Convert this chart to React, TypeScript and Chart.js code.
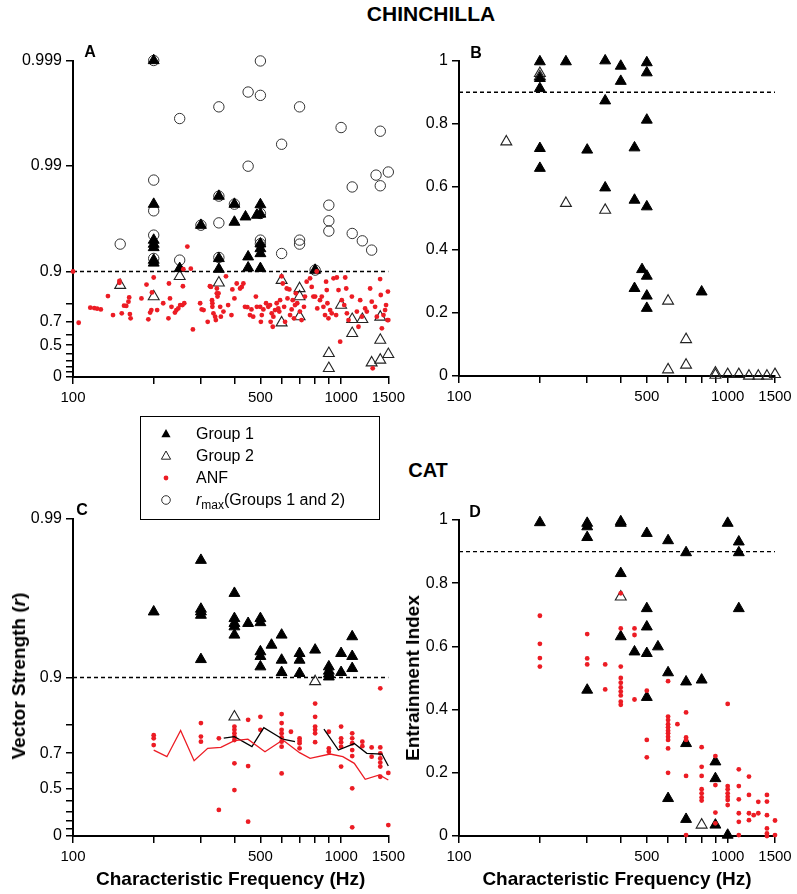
import React, { useEffect, useRef } from 'react';
import { Chart, registerables } from 'chart.js';

Chart.register(...registerables);

const FONT = '"Liberation Sans", Arial, Helvetica, sans-serif';
const RED = '#ec1c24';

// ---------- axis ticks ----------
const X_TICKS = [100, 200, 300, 400, 500, 600, 700, 800, 900, 1000, 1500];
const X_LABELS = [100, 500, 1000, 1500];
const VS_TICKS_A = [0, 0.1, 0.2, 0.3, 0.4, 0.5, 0.6, 0.7, 0.8, 0.9, 0.99, 0.999];
const VS_TICKS_C = [0, 0.1, 0.2, 0.3, 0.4, 0.5, 0.6, 0.7, 0.8, 0.9, 0.99];
const VS_LABELED = [0, 0.5, 0.7, 0.9, 0.99, 0.999];
const EI_TICKS = [0, 0.2, 0.4, 0.6, 0.8, 1];
const CRITERION = 0.9;

// ---------- CHINCHILLA, panel A (vector strength) ----------
const chinG1VS: [number, number][] = [
  [200, 0.999], [200, 0.977], [200, 0.9496], [200, 0.945], [200, 0.9408], [200, 0.922], [200, 0.917],
  [250, 0.9065], [300, 0.9636], [350, 0.9807], [350, 0.9248], [350, 0.905], [400, 0.977], [400, 0.966],
  [440, 0.9697], [450, 0.9275], [450, 0.9078], [485, 0.9708], [500, 0.9768], [500, 0.9715], [500, 0.9454],
  [500, 0.9394], [500, 0.9325], [500, 0.9065], [800, 0.903],
];
const chinG2VS: [number, number][] = [
  [150, 0.865], [200, 0.827], [250, 0.889], [350, 0.872], [600, 0.879], [600, 0.694], [700, 0.855],
  [700, 0.827], [700, 0.732], [900, 0.403], [900, 0.172], [1000, 0.792], [1100, 0.716], [1100, 0.614],
  [1200, 0.716], [1300, 0.268], [1400, 0.73], [1400, 0.553], [1400, 0.31], [1500, 0.39],
];
const chinRmax: [number, number][] = [
  [150, 0.945], [200, 0.999], [200, 0.9864], [200, 0.9734], [200, 0.9548], [200, 0.9248], [250, 0.99645],
  [250, 0.922], [300, 0.9636], [350, 0.99725], [350, 0.9807], [350, 0.9654], [350, 0.9264], [400, 0.977],
  [450, 0.99801], [450, 0.98996], [500, 0.99899], [500, 0.99786], [500, 0.9718], [500, 0.9496], [500, 0.9454],
  [600, 0.99378], [600, 0.9325], [700, 0.99725], [700, 0.9496], [700, 0.945], [800, 0.903], [900, 0.9765],
  [900, 0.9669], [900, 0.9586], [1000, 0.99568], [1100, 0.9842], [1100, 0.9564], [1200, 0.9488],
  [1300, 0.9373], [1350, 0.9878], [1400, 0.99532], [1400, 0.9846], [1500, 0.9886],
];
const chinANFVS: [number, number][] = [
  [100, 0.9], [105, 0.694], [116, 0.78], [120, 0.778], [123, 0.775], [127, 0.771], [135, 0.829], [141, 0.741],
  [149, 0.877], [149, 0.872], [152, 0.751], [155, 0.789], [158, 0.788], [161, 0.807], [162, 0.824], [163, 0.747],
  [164, 0.722], [180, 0.82], [188, 0.867], [191, 0.716], [194, 0.755], [196, 0.768], [197, 0.842], [200, 0.886],
  [206, 0.768], [217, 0.8], [227, 0.722], [228, 0.87], [230, 0.82], [233, 0.784], [240, 0.755], [243, 0.768],
  [247, 0.776], [251, 0.792], [256, 0.792], [257, 0.862], [258, 0.905], [260, 0.8], [267, 0.942], [275, 0.906],
  [280, 0.646], [298, 0.8], [302, 0.771], [307, 0.768], [318, 0.7], [324, 0.862], [330, 0.813], [331, 0.8],
  [339, 0.732], [341, 0.711], [344, 0.839], [327, 0.86], [331, 0.784], [334, 0.751], [344, 0.855], [346, 0.827],
  [349, 0.839], [354, 0.784], [356, 0.732], [364, 0.76], [372, 0.889], [379, 0.792], [390, 0.741], [393, 0.852],
  [400, 0.82], [408, 0.87], [420, 0.855], [426, 0.86], [432, 0.87], [438, 0.784], [447, 0.782], [457, 0.741],
  [463, 0.771], [470, 0.732], [481, 0.827], [485, 0.784], [499, 0.784], [502, 0.7], [506, 0.741], [513, 0.771],
  [525, 0.8], [535, 0.784], [543, 0.792], [546, 0.7], [551, 0.751], [556, 0.666], [559, 0.732], [567, 0.768],
  [575, 0.8], [583, 0.776], [588, 0.76], [592, 0.813], [600, 0.889], [606, 0.87], [613, 0.784], [618, 0.7],
  [627, 0.855], [631, 0.82], [641, 0.852], [645, 0.741], [654, 0.771], [660, 0.813], [667, 0.722], [673, 0.792],
  [678, 0.839], [686, 0.8], [702, 0.76], [712, 0.711], [727, 0.784], [733, 0.827], [744, 0.875], [766, 0.884],
  [777, 0.86], [788, 0.827], [800, 0.827], [811, 0.9], [815, 0.776], [834, 0.813], [847, 0.827], [859, 0.784],
  [871, 0.741], [879, 0.875], [884, 0.85], [889, 0.8], [897, 0.722], [910, 0.768], [923, 0.751], [937, 0.884],
  [958, 0.741], [964, 0.886], [978, 0.85], [992, 0.537], [1006, 0.813], [1027, 0.792], [1036, 0.886],
  [1045, 0.855], [1051, 0.751], [1066, 0.711], [1097, 0.827], [1145, 0.76], [1161, 0.666], [1178, 0.813],
  [1195, 0.732], [1229, 0.776], [1247, 0.76], [1283, 0.855], [1301, 0.807], [1312, 0.172], [1339, 0.784],
  [1359, 0.732], [1398, 0.882], [1406, 0.833], [1419, 0.654], [1439, 0.741], [1459, 0.768], [1471, 0.792],
  [1488, 0.711], [1495, 0.845], [1500, 0.711],
];

// ---------- CHINCHILLA, panel B (entrainment index) ----------
const chinG1EI: [number, number][] = [
  [200, 0.997], [200, 0.944], [200, 0.912], [200, 0.722], [200, 0.659], [250, 0.997], [300, 0.717],
  [350, 1.0], [350, 0.873], [350, 0.597], [400, 0.983], [400, 0.935], [450, 0.724], [450, 0.558], [450, 0.278],
  [480, 0.338], [500, 0.994], [500, 0.962], [500, 0.812], [500, 0.537], [500, 0.317], [500, 0.254],
  [500, 0.215], [800, 0.267],
];
const chinG2EI: [number, number][] = [
  [150, 0.743], [200, 0.96], [200, 0.95], [250, 0.548], [350, 0.526], [600, 0.238], [600, 0.02], [700, 0.116],
  [700, 0.035], [900, 0.01], [900, 0.003], [1000, 0.005], [1100, 0.005], [1200, 0], [1300, 0], [1400, 0],
  [1500, 0.005],
];

// ---------- CAT, panel C (vector strength) ----------
const catG1VS: [number, number][] = [
  [200, 0.9615], [300, 0.9818], [300, 0.963], [300, 0.9615], [300, 0.9596], [300, 0.9231], [400, 0.9706],
  [400, 0.9576], [400, 0.9545], [400, 0.9522], [400, 0.9461], [450, 0.9545], [500, 0.9576], [500, 0.955],
  [500, 0.9313], [500, 0.9265], [500, 0.9145], [550, 0.9376], [600, 0.9461], [600, 0.9224], [600, 0.9072],
  [700, 0.9296], [700, 0.9224], [700, 0.9059], [800, 0.933], [900, 0.9145], [900, 0.909], [900, 0.905],
  [900, 0.901], [1000, 0.9296], [1000, 0.9072], [1100, 0.9448], [1100, 0.9265], [1100, 0.9124],
];
const catG2VS: [number, number][] = [[400, 0.823], [800, 0.894]];
const catANFVS: [number, number][] = [
  [200, 0.769], [200, 0.758], [200, 0.733], [300, 0.806], [300, 0.764], [300, 0.746], [350, 0.758], [350, 0.315],
  [400, 0.796], [400, 0.786], [400, 0.775], [400, 0.764], [400, 0.752], [400, 0.652], [400, 0.487],
  [450, 0.815], [450, 0.638], [450, 0.188], [500, 0.823], [500, 0.786], [600, 0.83], [600, 0.806], [600, 0.786],
  [600, 0.775], [600, 0.761], [600, 0.746], [600, 0.727], [600, 0.597], [650, 0.78], [700, 0.758], [700, 0.749],
  [700, 0.74], [700, 0.72], [800, 0.854], [800, 0.823], [800, 0.796], [800, 0.786], [800, 0.775], [800, 0.744],
  [900, 0.78], [900, 0.72], [900, 0.706], [1000, 0.796], [1000, 0.758], [1000, 0.744], [1000, 0.727],
  [1000, 0.635], [1100, 0.775], [1100, 0.758], [1100, 0.74], [1100, 0.713], [1100, 0.687], [1100, 0.5],
  [1100, 0.118], [1200, 0.746], [1200, 0.729], [1300, 0.724], [1300, 0.684], [1400, 0.883], [1400, 0.724],
  [1400, 0.699], [1400, 0.676], [1400, 0.656], [1400, 0.635], [1400, 0.577], [1500, 0.6], [1500, 0.147],
];
const catANFMean: [number, number][] = [
  [200, 0.713], [224, 0.684], [252, 0.784], [283, 0.665], [318, 0.72], [356, 0.724], [400, 0.75], [449, 0.755],
  [520, 0.706], [606, 0.752], [700, 0.702], [766, 0.676], [910, 0.696], [1015, 0.684], [1120, 0.652],
  [1230, 0.561], [1390, 0.588], [1500, 0.557],
];
const catG1MeanLow: [number, number][] = [
  [365, 0.759], [400, 0.764], [465, 0.727], [515, 0.793], [606, 0.755], [673, 0.746],
];
const catG1MeanHigh: [number, number][] = [
  [863, 0.788], [977, 0.713], [1120, 0.739], [1247, 0.699], [1420, 0.696], [1500, 0.638],
];

// ---------- CAT, panel D (entrainment index) ----------
const catG1EI: [number, number][] = [
  [200, 0.992], [300, 0.99], [300, 0.979], [300, 0.945], [300, 0.462], [400, 0.995], [400, 0.99], [400, 0.831],
  [400, 0.631], [450, 0.583], [500, 0.958], [500, 0.72], [500, 0.662], [500, 0.578], [500, 0.439], [550, 0.599],
  [600, 0.935], [600, 0.517], [600, 0.119], [700, 0.897], [700, 0.488], [700, 0.293], [700, 0.053], [800, 0.494],
  [900, 0.235], [900, 0.182], [900, 0.035], [1000, 0.99], [1000, 0.003], [1100, 0.931], [1100, 0.897],
  [1100, 0.72],
];
const catG2EI: [number, number][] = [[400, 0.757], [800, 0.035]];
const catANFEI: [number, number][] = [
  [200, 0.697], [200, 0.608], [200, 0.563], [200, 0.536], [300, 0.639], [300, 0.562], [300, 0.543],
  [350, 0.543], [350, 0.464], [400, 0.768], [400, 0.657], [400, 0.536], [400, 0.5], [400, 0.485], [400, 0.47],
  [400, 0.457], [400, 0.445], [400, 0.425], [400, 0.415], [450, 0.657], [450, 0.636], [450, 0.432],
  [500, 0.46], [500, 0.304], [500, 0.249], [600, 0.49], [600, 0.378], [600, 0.367], [600, 0.354], [600, 0.344],
  [600, 0.333], [600, 0.325], [600, 0.314], [600, 0.304], [600, 0.277], [600, 0.2], [650, 0.354], [700, 0.391],
  [700, 0.312], [700, 0.304], [700, 0.19], [700, 0.003], [800, 0.281], [800, 0.219], [800, 0.19], [800, 0.148],
  [800, 0.135], [800, 0.122], [800, 0.112], [900, 0.253], [900, 0.161], [900, 0.074], [900, 0.04],
  [1000, 0.418], [1000, 0.158], [1000, 0.148], [1000, 0.135], [1000, 0.124], [1000, 0.114], [1000, 0.098],
  [1100, 0.211], [1100, 0.158], [1100, 0.116], [1100, 0.072], [1100, 0.045], [1100, 0.003], [1200, 0.188],
  [1200, 0.13], [1200, 0.072], [1200, 0.05], [1250, 0.066], [1300, 0.108], [1300, 0.072], [1400, 0.13],
  [1400, 0.109], [1400, 0.066], [1400, 0.024], [1400, 0.008], [1400, 0], [1500, 0.049], [1500, 0.003],
];

// ---------- helpers ----------
const T = (r: number) => -Math.log10(1 - Math.min(r, 0.999));
const toPts = (arr: [number, number][], vs: boolean) => arr.map(([f, v]) => ({ x: f, y: vs ? T(v) : v }));

const gridOpts = { display: true, drawOnChartArea: false, drawTicks: true, tickLength: 7, color: '#000', lineWidth: 1.5 };
const borderOpts = { display: true, color: '#000', width: 2 };

function xScale(height: number, withTitle: boolean) {
  return {
    type: 'logarithmic',
    min: 100,
    max: 1500,
    afterBuildTicks: (s: any) => { s.ticks = X_TICKS.map((v) => ({ value: v })); },
    afterFit: (s: any) => { s.height = height; },
    ticks: {
      autoSkip: false, maxRotation: 0, minRotation: 0, padding: 5, color: '#000',
      font: { family: FONT, size: 15 },
      callback: (v: number) => (X_LABELS.includes(v) ? String(v) : ''),
    },
    grid: gridOpts,
    border: borderOpts,
    title: {
      display: withTitle, text: 'Characteristic Frequency (Hz)', color: '#000',
      font: { family: FONT, size: 19, weight: 'bold' }, padding: 0,
    },
  };
}

function vsScale(ticksArr: number[], max: number) {
  return {
    type: 'linear', min: 0, max,
    afterBuildTicks: (s: any) => { s.ticks = ticksArr.map((r) => ({ value: T(r) })); },
    afterFit: (s: any) => { s.width = 73; },
    ticks: {
      autoSkip: false, padding: 4, color: '#000', font: { family: FONT, size: 16 },
      callback: (_v: number, i: number) => (VS_LABELED.includes(ticksArr[i]) ? String(ticksArr[i]) : ''),
    },
    grid: gridOpts,
    border: borderOpts,
  };
}

function eiScale() {
  return {
    type: 'linear', min: 0, max: 1,
    afterBuildTicks: (s: any) => { s.ticks = EI_TICKS.map((v) => ({ value: v })); },
    afterFit: (s: any) => { s.width = 59; },
    ticks: {
      autoSkip: false, padding: 4, color: '#000', font: { family: FONT, size: 16 },
      callback: (v: number) => String(v),
    },
    grid: gridOpts,
    border: borderOpts,
  };
}

const anfSet = (arr: [number, number][], vs: boolean) => ({
  data: toPts(arr, vs), pointStyle: 'circle', pointRadius: 2.4, backgroundColor: RED, borderColor: RED,
  borderWidth: 0, clip: false, order: 1,
});
const g1Set = (arr: [number, number][], vs: boolean) => ({
  data: toPts(arr, vs), pointStyle: 'triangle', pointRadius: 6.3, backgroundColor: '#000', borderColor: '#000',
  borderWidth: 1, clip: false, order: 2,
});
const g2Set = (arr: [number, number][], vs: boolean) => ({
  data: toPts(arr, vs), pointStyle: 'triangle', pointRadius: 6.3, backgroundColor: 'rgba(255,255,255,0)',
  borderColor: '#222', borderWidth: 1.1, clip: false, order: 3,
});
const rmaxSet = (arr: [number, number][]) => ({
  data: toPts(arr, true), pointStyle: 'circle', pointRadius: 5.2, backgroundColor: 'rgba(255,255,255,0)',
  borderColor: '#333', borderWidth: 1, clip: false, order: 4,
});
const dashSet = (vs: boolean) => ({
  data: [{ x: 100, y: vs ? T(CRITERION) : CRITERION }, { x: 1500, y: vs ? T(CRITERION) : CRITERION }],
  showLine: true, pointRadius: 0, borderColor: '#000', borderWidth: 1.3, borderDash: [4, 3], clip: false, order: 5,
});
const lineSet = (arr: [number, number][], color: string) => ({
  data: toPts(arr, true), showLine: true, pointRadius: 0, borderColor: color, borderWidth: 1.3,
  clip: false, order: 0,
});

function makeConfig(datasets: any[], x: any, y: any, padding: any) {
  return {
    type: 'scatter',
    data: { datasets },
    options: {
      responsive: false,
      animation: false,
      devicePixelRatio: 1,
      events: [],
      layout: { padding },
      plugins: { legend: { display: false }, tooltip: { enabled: false }, title: { display: false } },
      scales: { x, y },
    },
  };
}

const buildA = () => makeConfig(
  [anfSet(chinANFVS, true), g1Set(chinG1VS, true), g2Set(chinG2VS, true), rmaxSet(chinRmax), dashSet(true)],
  xScale(30, false), vsScale(VS_TICKS_A, 3), { top: 30.5, right: 21, left: 0, bottom: 0 },
);
const buildB = () => makeConfig(
  [g1Set(chinG1EI, false), g2Set(chinG2EI, false), dashSet(false)],
  xScale(30, false), eiScale(), { top: 30.7, right: 22, left: 0, bottom: 0 },
);
const buildC = () => makeConfig(
  [lineSet(catANFMean, RED), lineSet(catG1MeanLow, '#000'), lineSet(catG1MeanHigh, '#000'),
    anfSet(catANFVS, true), g1Set(catG1VS, true), g2Set(catG2VS, true), dashSet(true)],
  xScale(55, true), vsScale(VS_TICKS_C, 2), { top: 29, right: 21, left: 0, bottom: 0 },
);
const buildD = () => makeConfig(
  [anfSet(catANFEI, false), g1Set(catG1EI, false), g2Set(catG2EI, false), dashSet(false)],
  xScale(55, true), eiScale(), { top: 30, right: 22, left: 0, bottom: 0 },
);

function ChartCanvas(props: { left: number; top: number; width: number; height: number; build: () => any }) {
  const ref = useRef<HTMLCanvasElement>(null);
  useEffect(() => {
    const chart = new Chart(ref.current as HTMLCanvasElement, props.build() as any);
    return () => chart.destroy();
  }, []);
  return (
    <canvas
      ref={ref}
      width={props.width}
      height={props.height}
      style={{ position: 'absolute', left: props.left, top: props.top, width: props.width, height: props.height }}
    />
  );
}

const at = (x: number, y: number): React.CSSProperties => ({
  position: 'absolute', left: x, top: y, transform: 'translate(-50%, -50%)', whiteSpace: 'nowrap',
});

function Marker({ kind }: { kind: string }) {
  return (
    <svg width={14} height={14} viewBox="-7 -7 14 14" style={{ position: 'absolute', left: -7, top: -7 }}>
      {kind === 'g1' && <polygon points="0,-5 4.6,3.2 -4.6,3.2" fill="#000" />}
      {kind === 'g2' && <polygon points="0,-5 4.6,3.2 -4.6,3.2" fill="none" stroke="#222" strokeWidth={1} />}
      {kind === 'anf' && <circle cx={0} cy={0} r={2.4} fill={RED} />}
      {kind === 'rmax' && <circle cx={0} cy={0} r={4.3} fill="none" stroke="#333" strokeWidth={1} />}
    </svg>
  );
}

function Legend() {
  const rows: { kind: string; label: React.ReactNode }[] = [
    { kind: 'g1', label: 'Group 1' },
    { kind: 'g2', label: 'Group 2' },
    { kind: 'anf', label: 'ANF' },
    {
      kind: 'rmax',
      label: (
        <span><i>r</i><span style={{ fontSize: 12, position: 'relative', top: 4 }}>max</span>(Groups 1 and 2)</span>
      ),
    },
  ];
  return (
    <div style={{ position: 'absolute', left: 140, top: 416, width: 240, height: 104, border: '1.5px solid #000', boxSizing: 'border-box', background: '#fff' }}>
      {rows.map((r, i) => (
        <React.Fragment key={i}>
          <div style={{ position: 'absolute', left: 25, top: 17 + 22 * i, width: 0, height: 0 }}>
            <Marker kind={r.kind} />
          </div>
          <div style={{ position: 'absolute', left: 55, top: 17 + 22 * i, transform: 'translateY(-50%)', fontSize: 16, whiteSpace: 'nowrap' }}>
            {r.label}
          </div>
        </React.Fragment>
      ))}
    </div>
  );
}

export default function App() {
  useEffect(() => {
    Chart.defaults.font.family = FONT;
  }, []);
  return (
    <div style={{ position: 'absolute', left: 0, top: 0, width: 797, height: 894, background: '#fff', color: '#000', fontFamily: FONT, overflow: 'hidden' }}>
      <ChartCanvas left={0} top={30} width={410} height={377} build={buildA} />
      <ChartCanvas left={400} top={30} width={397} height={376} build={buildB} />
      <ChartCanvas left={0} top={490} width={410} height={401} build={buildC} />
      <ChartCanvas left={400} top={490} width={397} height={401} build={buildD} />

      <div style={{ ...at(431, 14), fontSize: 21, fontWeight: 'bold' }}>CHINCHILLA</div>
      <div style={{ ...at(428, 470), fontSize: 20, fontWeight: 'bold' }}>CAT</div>

      <div style={{ ...at(90, 52), fontSize: 16, fontWeight: 'bold' }}>A</div>
      <div style={{ ...at(476, 53), fontSize: 16, fontWeight: 'bold' }}>B</div>
      <div style={{ ...at(82, 510), fontSize: 16, fontWeight: 'bold' }}>C</div>
      <div style={{ ...at(475, 512), fontSize: 16, fontWeight: 'bold' }}>D</div>

      <div style={{ ...at(18.5, 676), transform: 'translate(-50%, -50%) rotate(-90deg)', fontSize: 19, fontWeight: 'bold' }}>
        Vector Strength (<i>r</i>)
      </div>
      <div style={{ ...at(413, 678), transform: 'translate(-50%, -50%) rotate(-90deg)', fontSize: 19, fontWeight: 'bold' }}>
        Entrainment Index
      </div>

      <Legend />
    </div>
  );
}
